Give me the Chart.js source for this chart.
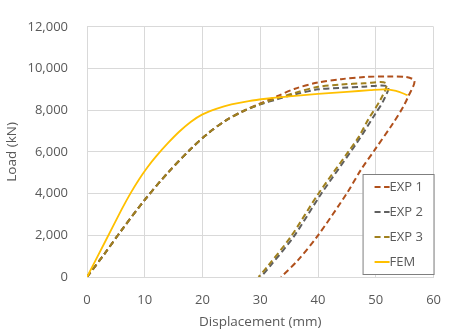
<!DOCTYPE html>
<html>
<head>
<meta charset="utf-8">
<script src="https://cdn.jsdelivr.net/npm/chart.js@4/dist/chart.umd.min.js"></script>
<style>
  body { margin: 0; background: #fff; }
  canvas { display: block; }
</style>
</head>
<body>
<canvas id="loadChart" width="456" height="336"></canvas>
<script>
// --- data --- //
const seriesLabels = ['EXP 1', 'EXP 2', 'EXP 3', 'FEM'];

const exp1X = [0, 3, 6, 10, 14, 18, 21, 24, 27, 30, 33, 36, 40, 44, 48, 52, 55.3, 56.7, 55.6, 54.7, 53, 49.9, 47.4, 45, 39.9, 36.5, 33.6];
const exp1Y = [0, 1100, 2250, 3700, 5000, 6150, 6900, 7500, 7950, 8320, 8680, 9030, 9330, 9490, 9590, 9620, 9590, 9400, 8650, 8140, 7380, 6130, 5130, 4020, 1960, 800, 0];

const exp2X = [0, 3, 6, 10, 14, 18, 21, 24, 27, 30, 33, 36, 40, 44, 48, 52.1, 51.3, 49.9, 46.7, 40.5, 35.8, 31.7, 30.1];
const exp2Y = [0, 1100, 2250, 3700, 5000, 6150, 6900, 7500, 7950, 8280, 8530, 8760, 9000, 9070, 9130, 9130, 8450, 7820, 6430, 3970, 1940, 520, 0];

const exp3X = [0, 3, 6, 10, 14, 18, 21, 24, 27, 30, 33, 36, 40, 44, 48, 51.8, 50.9, 48.7, 47, 45.3, 40, 35.3, 31.3, 29.7];
const exp3Y = [0, 1100, 2250, 3700, 5000, 6150, 6900, 7500, 7950, 8300, 8580, 8830, 9120, 9230, 9290, 9290, 8550, 7560, 6700, 6030, 3970, 1940, 520, 0];

const femX = [0, 3, 6, 7.5, 9, 10.5, 12, 14, 16, 18, 20, 22.5, 25, 28, 31, 35, 40, 45, 49, 51.5, 53.5, 55.5];
const femY = [0, 1620, 3240, 4000, 4680, 5280, 5800, 6420, 6980, 7450, 7800, 8080, 8280, 8440, 8550, 8660, 8780, 8880, 8960, 9000, 8930, 8720];

const seriesColors = ['#b0501c', '#5f5f5f', '#a0801e', '#ffc000'];
const xTicks = [0, 10, 20, 30, 40, 50, 60];
const yTicks = [0, 2000, 4000, 6000, 8000, 10000, 12000];

const FONT = "'Open Sans', 'DejaVu Sans', sans-serif";
const TEXT_COLOR = '#595959';
const GRID_COLOR = '#d9d9d9';

function toPoints(xs, ys) {
    return xs.map((x, i) => ({ x: x, y: ys[i] }));
}

function dashedSeries(idx, xs, ys) {
    return {
        label: seriesLabels[idx],
        data: toPoints(xs, ys),
        borderColor: seriesColors[idx],
        backgroundColor: seriesColors[idx],
        borderWidth: 2,
        borderDash: [6, 3.5],
        order: 4 - idx
    };
}

// --- legend box inside the plot area --- //
const boxLegend = {
    id: 'boxLegend',
    afterDraw(chart) {
        const ctx = chart.ctx;
        const area = chart.chartArea;
        const w = 71, h = 100;
        const left = area.right - w;
        const top = area.bottom - h - 3;

        ctx.save();
        ctx.fillStyle = '#fff';
        ctx.fillRect(left, top, w, h);
        ctx.strokeStyle = '#7f7f7f';
        ctx.lineWidth = 1;
        ctx.strokeRect(left + 0.5, top + 0.5, w, h);

        ctx.font = '13px ' + FONT;
        ctx.textBaseline = 'middle';
        ctx.textAlign = 'left';
        chart.data.datasets.forEach((ds, i) => {
            const y = top + 13 + i * 25;
            ctx.beginPath();
            ctx.strokeStyle = ds.borderColor;
            ctx.lineWidth = 2;
            ctx.setLineDash(ds.borderDash || []);
            ctx.moveTo(left + 12, y);
            ctx.lineTo(left + 27, y);
            ctx.stroke();
            ctx.setLineDash([]);
            ctx.fillStyle = TEXT_COLOR;
            ctx.fillText(ds.label, left + 27, y);
        });
        ctx.restore();
    }
};

const ctx = document.getElementById('loadChart').getContext('2d');
new Chart(ctx, {
    type: 'scatter',
    data: {
        datasets: [
            dashedSeries(0, exp1X, exp1Y),
            dashedSeries(1, exp2X, exp2Y),
            dashedSeries(2, exp3X, exp3Y),
            {
                label: seriesLabels[3],
                data: toPoints(femX, femY),
                borderColor: seriesColors[3],
                backgroundColor: seriesColors[3],
                borderWidth: 1.8,
                order: 0
            }
        ]
    },
    options: {
        responsive: false,
        animation: false,
        showLine: true,
        layout: { padding: { top: 9, right: 14, left: 0, bottom: 0 } },
        elements: {
            point: { radius: 0, hoverRadius: 0 },
            line: { tension: 0.3, fill: false }
        },
        plugins: {
            legend: { display: false },
            tooltip: { enabled: false }
        },
        scales: {
            x: {
                type: 'linear', min: 0, max: 60,
                afterFit: s => { s.height = 59; },
                afterBuildTicks: s => { s.ticks = xTicks.map(v => ({ value: v })); },
                grid: { color: GRID_COLOR, drawTicks: false },
                border: { color: GRID_COLOR },
                ticks: { padding: 15, color: TEXT_COLOR, font: { family: FONT, size: 13 } },
                title: {
                    display: true, text: 'Displacement (mm)', color: TEXT_COLOR,
                    font: { family: FONT, size: 13.5 }, padding: { top: 4, bottom: 6 }
                }
            },
            y: {
                min: 0, max: 12000,
                afterFit: s => { s.width = 87; },
                afterBuildTicks: s => { s.ticks = yTicks.map(v => ({ value: v })); },
                grid: { color: GRID_COLOR, drawTicks: false },
                border: { color: GRID_COLOR },
                ticks: {
                    padding: 19, color: TEXT_COLOR, font: { family: FONT, size: 13 },
                    callback: v => v.toLocaleString('en-US')
                },
                title: {
                    display: true, text: 'Load (kN)', color: TEXT_COLOR,
                    font: { family: FONT, size: 13.5 }, padding: { top: 4, bottom: 4 }
                }
            }
        }
    },
    plugins: [boxLegend]
});
</script>
</body>
</html>
